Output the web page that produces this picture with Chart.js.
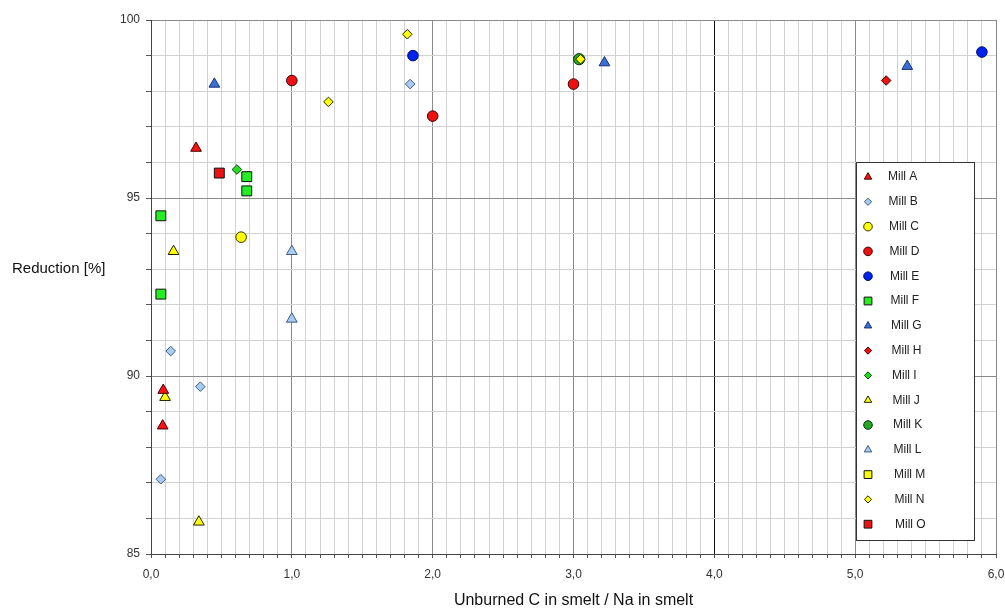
<!DOCTYPE html>
<html><head><meta charset="utf-8">
<script src="https://cdn.jsdelivr.net/npm/chart.js@4.4.0/dist/chart.umd.min.js"></script>
<style>html,body{margin:0;padding:0;background:#fff;}#wrap{width:1005px;height:610px;position:relative;}</style>
</head><body><div id="wrap"><canvas id="c" width="1005" height="610"></canvas></div>
<script>
// ---------- DATA ----------
const xTitle = 'Unburned C in smelt / Na in smelt';
const yTitle = 'Reduction [%]';
const xTickValues = [0, 1, 2, 3, 4, 5, 6];
const yTickValues = [85, 90, 95, 100];
const millNames = ['Mill A','Mill B','Mill C','Mill D','Mill E','Mill F','Mill G','Mill H','Mill I','Mill J','Mill K','Mill L','Mill M','Mill N','Mill O'];

const millA_x = [0.32, 0.087, 0.083];      const millA_y = [96.4, 89.6, 88.6];
const millB_x = [1.84, 0.14, 0.35, 0.07];  const millB_y = [98.2, 90.7, 89.7, 87.1];
const millC_x = [0.64];                    const millC_y = [93.9];
const millD_x = [1.0, 2.0, 3.0];           const millD_y = [98.3, 97.3, 98.2];
const millE_x = [1.86, 5.9];               const millE_y = [99.0, 99.1];
const millF_x = [0.68, 0.68, 0.07, 0.07];  const millF_y = [95.6, 95.2, 94.5, 92.3];
const millG_x = [0.45, 3.22, 5.37];        const millG_y = [98.2, 98.8, 98.7];
const millH_x = [5.22];                    const millH_y = [98.3];
const millI_x = [0.61];                    const millI_y = [95.8];
const millJ_x = [0.16, 0.10, 0.34];        const millJ_y = [93.5, 89.4, 85.9];
const millK_x = [3.04];                    const millK_y = [98.9];
const millL_x = [1.0, 1.0];                const millL_y = [93.5, 91.6];
const millM_x = [];                        const millM_y = [];
const millN_x = [1.82, 1.26, 3.05];        const millN_y = [99.6, 97.7, 98.9];
const millO_x = [0.485];                   const millO_y = [95.7];

const seriesX = [millA_x, millB_x, millC_x, millD_x, millE_x, millF_x, millG_x, millH_x, millI_x, millJ_x, millK_x, millL_x, millM_x, millN_x, millO_x];
const seriesY = [millA_y, millB_y, millC_y, millD_y, millE_y, millF_y, millG_y, millH_y, millI_y, millJ_y, millK_y, millL_y, millM_y, millN_y, millO_y];

// ---------- STYLES ----------
const styles = [
  {shape:'triangle', fill:'#ff1010', border:'#400000', r:6.2},
  {shape:'rectRot',  fill:'#a9cdf2', border:'#3d5a80', r:4.8},
  {shape:'circle',   fill:'#ffff00', border:'#333300', r:5.3},
  {shape:'circle',   fill:'#ee1111', border:'#400000', r:5.3},
  {shape:'circle',   fill:'#0022ee', border:'#001060', r:5.3},
  {shape:'rect',     fill:'#22ee22', border:'#111111', r:7.0},
  {shape:'triangle', fill:'#3a6fd8', border:'#1a3170', r:6.2},
  {shape:'rectRot',  fill:'#ee1111', border:'#400000', r:4.8},
  {shape:'rectRot',  fill:'#22dd22', border:'#0a400a', r:4.8},
  {shape:'triangle', fill:'#ffff00', border:'#222200', r:6.2},
  {shape:'circle',   fill:'#22aa22', border:'#0a300a', r:5.6},
  {shape:'triangle', fill:'#a9cdf2', border:'#3d5a80', r:6.2},
  {shape:'rect',     fill:'#ffff00', border:'#111111', r:7.0},
  {shape:'rectRot',  fill:'#ffff00', border:'#222200', r:4.8},
  {shape:'rect',     fill:'#ee1111', border:'#111111', r:7.0}
];
const frontIndex = 13; // Mill N drawn on top of Mill K

const datasets = millNames.map((name, i) => ({
  label: name,
  data: seriesX[i].map((x, j) => ({x: x, y: seriesY[i][j]})),
  pointStyle: styles[i].shape,
  backgroundColor: styles[i].fill,
  borderColor: styles[i].border,
  pointRadius: styles[i].r,
  pointBorderWidth: 1,
  showLine: false,
  order: i === frontIndex ? -1 : 0
}));

const fontFam = '"Liberation Sans", Arial, sans-serif';
const isInt = v => Math.abs(v - Math.round(v)) < 1e-6;

const yLabelPlugin = {
  id: 'yLabel',
  afterDraw(chart) {
    const ctx = chart.ctx;
    ctx.save();
    ctx.font = '15px ' + fontFam;
    ctx.fillStyle = '#111';
    ctx.textAlign = 'left';
    ctx.textBaseline = 'middle';
    ctx.fillText(yTitle, 12, 269);
    ctx.restore();
  }
};

const legendPlugin = {
  id: 'boxLegend',
  afterDraw(chart) {
    const ctx = chart.ctx;
    const x0 = 856, y0 = 162, w = 118, h = 378;
    ctx.save();
    ctx.fillStyle = '#fff';
    ctx.fillRect(x0, y0, w, h);
    ctx.strokeStyle = '#333';
    ctx.lineWidth = 1;
    ctx.strokeRect(x0 + 0.5, y0 + 0.5, w, h);
    chart.data.datasets.forEach((ds, i) => {
      const cy = 177 + i * 24.8;
      ctx.fillStyle = ds.backgroundColor;
      ctx.strokeStyle = ds.borderColor;
      ctx.lineWidth = 1;
      Chart.helpers.drawPoint(ctx, {pointStyle: ds.pointStyle, radius: ds.pointStyle === 'rect' ? 5.5 : (ds.pointStyle === 'rectRot' ? 3.6 : 4.3), rotation: 0, borderWidth: 1}, 868, cy);
      ctx.fillStyle = '#222';
      ctx.font = '12px ' + fontFam;
      ctx.textAlign = 'left';
      ctx.textBaseline = 'middle';
      ctx.fillText(ds.label, 888 + i * 0.5, cy);
    });
    ctx.restore();
  }
};

new Chart(document.getElementById('c'), {
  type: 'scatter',
  data: { datasets },
  options: {
    responsive: false,
    animation: false,
    devicePixelRatio: 1,
    layout: { padding: { left: 0, right: 0, top: 20, bottom: 0 } },
    plugins: { legend: { display: false }, tooltip: { enabled: false } },
    scales: {
      x: {
        type: 'linear',
        min: xTickValues[0], max: xTickValues[xTickValues.length - 1],
        ticks: {
          stepSize: 0.1, autoSkip: false, maxRotation: 0, padding: 9,
          color: '#333', font: { size: 12, family: fontFam },
          callback: v => isInt(v) && xTickValues.includes(Math.round(v)) ? Math.round(v).toFixed(1).replace('.', ',') : ''
        },
        grid: {
          color: c => { const v = c.tick.value; if (isInt(v)) return Math.round(v) === 4 ? '#111' : '#8a8a8a'; return '#d2d2d2'; },
          tickColor: '#555', tickLength: 4
        },
        border: { color: '#444', width: 1 },
        title: { display: true, text: xTitle, color: '#111', font: { size: 16, family: fontFam }, padding: { top: 8, bottom: 0 } },
        afterFit: s => { s.height = 56; s.paddingRight = 9; s.paddingLeft = 0; }
      },
      y: {
        type: 'linear',
        min: yTickValues[0], max: yTickValues[yTickValues.length - 1],
        ticks: {
          stepSize: 1, autoSkip: false, padding: 6,
          color: '#333', font: { size: 12, family: fontFam },
          callback: v => yTickValues.includes(Math.round(v)) && isInt(v) ? String(Math.round(v)) : ''
        },
        grid: {
          color: c => (Math.round(c.tick.value) % 5 === 0 ? '#8a8a8a' : '#d2d2d2'),
          tickColor: '#555', tickLength: 5
        },
        border: { color: '#444', width: 1 },
        afterFit: s => { s.width = 151; s.paddingTop = 0; s.paddingBottom = 0; }
      }
    }
  },
  plugins: [yLabelPlugin, legendPlugin]
});
</script>
</body></html>
